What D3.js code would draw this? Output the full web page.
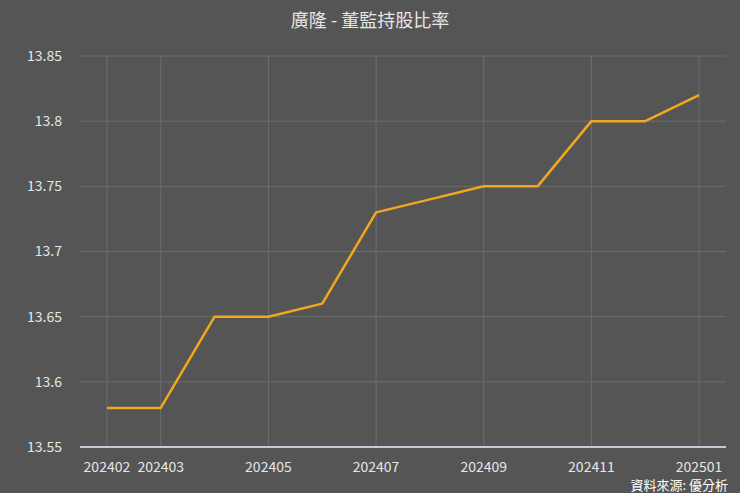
<!DOCTYPE html>
<html>
<head>
<meta charset="utf-8">
<script src="https://cdn.jsdelivr.net/npm/d3@7"></script>
<style>
  body { margin: 0; background: #555555; }
  svg { display: block; font-family: "Noto Sans CJK TC", "Noto Sans", sans-serif; }
</style>
</head>
<body>
<svg id="chart"></svg>
<script>
// monthly data
const months = ["202402", "202403", "202404", "202405", "202406", "202407",
                "202408", "202409", "202410", "202411", "202412", "202501"];
const ratio = [13.58, 13.58, 13.65, 13.65, 13.66, 13.73,
               13.74, 13.75, 13.75, 13.80, 13.80, 13.82];
const xLabels = ["202402", "202403", "202405", "202407", "202409", "202411", "202501"];
const yTicks = [13.55, 13.6, 13.65, 13.7, 13.75, 13.8, 13.85];

const width = 740, height = 493;
const margin = { top: 56, right: 14, bottom: 46, left: 80 };

const svg = d3.select("#chart")
  .attr("width", width)
  .attr("height", height);

svg.append("rect")
  .attr("width", width)
  .attr("height", height)
  .attr("fill", "#555555");

const x = d3.scalePoint()
  .domain(months)
  .range([margin.left, width - margin.right])
  .padding(0.5);

const y = d3.scaleLinear()
  .domain([13.55, 13.85])
  .range([height - margin.bottom, margin.top]);

// horizontal grid
svg.append("g")
  .selectAll("line")
  .data(yTicks.slice(1))
  .join("line")
  .attr("x1", margin.left)
  .attr("x2", width - margin.right)
  .attr("y1", d => y(d))
  .attr("y2", d => y(d))
  .attr("stroke", "#6e6e6e")
  .attr("stroke-width", 1);

// vertical grid only at labelled months
svg.append("g")
  .selectAll("line")
  .data(xLabels)
  .join("line")
  .attr("x1", d => x(d))
  .attr("x2", d => x(d))
  .attr("y1", y(13.85))
  .attr("y2", y(13.55))
  .attr("stroke", "#6e6e6e")
  .attr("stroke-width", 1);

// y labels
svg.append("g")
  .selectAll("text")
  .data(yTicks)
  .join("text")
  .attr("x", 62)
  .attr("y", d => y(d))
  .attr("dy", "0.35em")
  .attr("text-anchor", "end")
  .attr("fill", "#e6e6e6")
  .attr("font-size", 14)
  .text(d => d);

// x labels
svg.append("g")
  .selectAll("text")
  .data(xLabels)
  .join("text")
  .attr("x", d => x(d))
  .attr("y", y(13.55) + 25)
  .attr("text-anchor", "middle")
  .attr("fill", "#e6e6e6")
  .attr("font-size", 14)
  .text(d => d);

// bottom axis line
svg.append("line")
  .attr("x1", margin.left)
  .attr("x2", width - margin.right)
  .attr("y1", y(13.55))
  .attr("y2", y(13.55))
  .attr("stroke", "#c8c8d8")
  .attr("stroke-width", 2);

// the line itself
const line = d3.line()
  .x((d, i) => x(months[i]))
  .y(d => y(d));

svg.append("path")
  .datum(ratio)
  .attr("d", line)
  .attr("fill", "none")
  .attr("stroke", "#f2a81d")
  .attr("stroke-width", 2.5)
  .attr("stroke-linejoin", "round");

// title
svg.append("text")
  .attr("x", width / 2)
  .attr("y", 27)
  .attr("text-anchor", "middle")
  .attr("fill", "#e6e6e6")
  .attr("font-size", 18)
  .text("廣隆 - 董監持股比率");

// source
svg.append("text")
  .attr("x", width - 12)
  .attr("y", 490)
  .attr("text-anchor", "end")
  .attr("fill", "#ffffff")
  .attr("font-size", 13)
  .text("資料來源: 優分析");
</script>
</body>
</html>
